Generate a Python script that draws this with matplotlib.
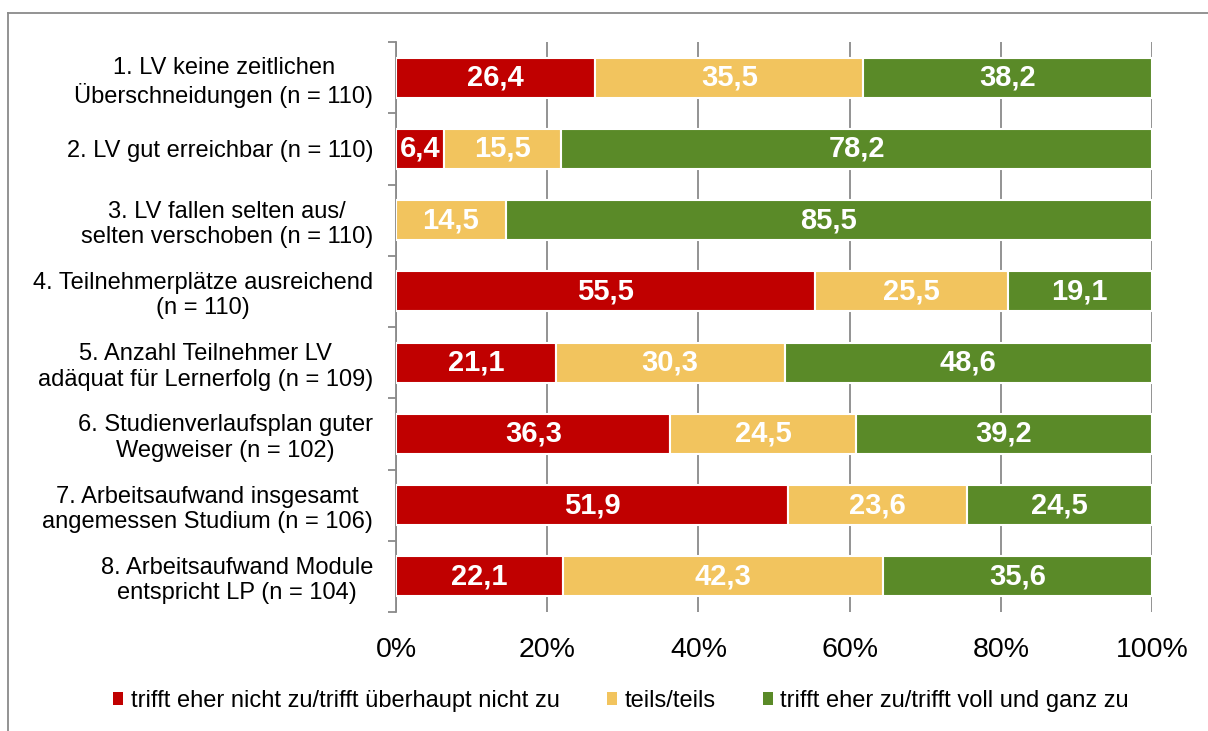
import matplotlib
matplotlib.use("Agg")
import matplotlib.pyplot as plt
from matplotlib.patches import Patch
from matplotlib.lines import Line2D
import numpy as np

plt.rcParams["font.family"] = ["Liberation Sans", "DejaVu Sans"]

categories = [
    "1. LV keine zeitlichen\nÜberschneidungen (n = 110)",
    "2. LV gut erreichbar (n = 110)",
    "3. LV fallen selten aus/\nselten verschoben (n = 110)",
    "4. Teilnehmerplätze ausreichend\n(n = 110)",
    "5. Anzahl Teilnehmer LV\nadäquat für Lernerfolg (n = 109)",
    "6. Studienverlaufsplan guter\nWegweiser (n = 102)",
    "7. Arbeitsaufwand insgesamt\nangemessen Studium (n = 106)",
    "8. Arbeitsaufwand Module\nentspricht LP (n = 104)",
]
nicht_zu = [26.4, 6.4, 0.0, 55.5, 21.1, 36.3, 51.9, 22.1]
teils = [35.5, 15.5, 14.5, 25.5, 30.3, 24.5, 23.6, 42.3]
eher_zu = [38.2, 78.2, 85.5, 19.1, 48.6, 39.2, 24.5, 35.6]

series_names = [
    "trifft eher nicht zu/trifft überhaupt nicht zu",
    "teils/teils",
    "trifft eher zu/trifft voll und ganz zu",
]
colors = ["#C00000", "#F2C45E", "#5A8A28"]

data = np.array([nicht_zu, teils, eher_zu])
totals = data.sum(axis=0)
shares = data / totals * 100

fig = plt.figure(figsize=(12.08, 7.31), dpi=100)
ax = fig.add_axes([396 / 1208, 1 - 612 / 731, 756 / 1208, 570 / 731])

y = np.arange(len(categories))
left = np.zeros(len(categories))
for i in range(3):
    bars = ax.barh(y, shares[i], left=left, height=0.56, color=colors[i],
                   edgecolor="white", linewidth=1.5, zorder=3)
    labels = [f"{v:.1f}".replace(".", ",") if v > 0 else "" for v in data[i]]
    ax.bar_label(bars, labels=labels, label_type="center", color="white",
                 fontsize=21, fontweight="bold")
    left += shares[i]

ax.set_xlim(0, 100)
ax.set_ylim(len(categories) - 0.5, -0.5)

ax.set_xticks([0, 20, 40, 60, 80, 100])
ax.set_xticklabels(["0%", "20%", "40%", "60%", "80%", "100%"], fontsize=20.5)
ax.tick_params(axis="x", length=0, pad=18)
ax.grid(axis="x", color="#8a8a8a", linewidth=1.3, zorder=0)

ax.set_yticks(np.arange(-0.5, len(categories), 1))
ax.set_yticklabels([])
ax.tick_params(axis="y", which="major", length=6, color="#8a8a8a", width=1.3)
ax.set_yticks(y, minor=True)
ax.set_yticklabels(categories, minor=True, fontsize=17)
ax.tick_params(axis="y", which="minor", length=0, pad=16.5)
for lab in ax.get_yticklabels(minor=True):
    lab.set_multialignment("center")

for s in ["top", "right", "bottom"]:
    ax.spines[s].set_visible(False)
ax.spines["left"].set_color("#8a8a8a")
ax.spines["left"].set_linewidth(1.3)

handles = [Patch(facecolor=c, edgecolor="none") for c in colors]
fig.legend(handles, series_names, loc="center", bbox_to_anchor=(0.514, 0.041),
           ncol=3, frameon=False, fontsize=17, handlelength=0.45,
           handleheight=0.45, handletextpad=0.3, columnspacing=2.0)

# outer chart border (left and top edges visible)
fig.add_artist(Line2D([8 / 1208, 8 / 1208], [0, 1 - 13 / 731],
                      transform=fig.transFigure, color="#8a8a8a", lw=1.3))
fig.add_artist(Line2D([8 / 1208, 1], [1 - 13 / 731, 1 - 13 / 731],
                      transform=fig.transFigure, color="#8a8a8a", lw=1.3))

fig.savefig("out.png", dpi=100)
